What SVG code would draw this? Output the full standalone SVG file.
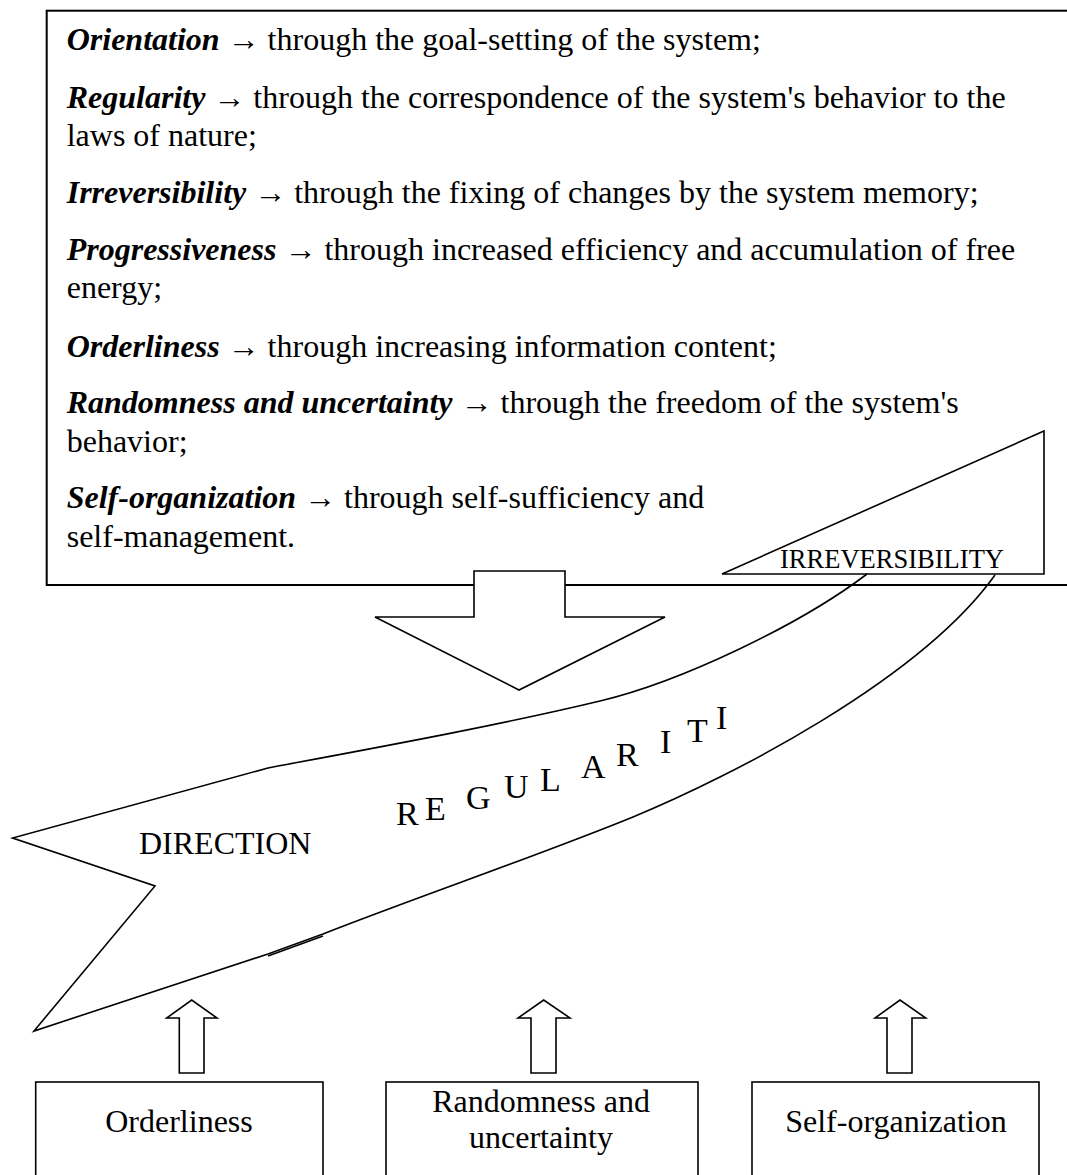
<svg xmlns="http://www.w3.org/2000/svg" width="1067" height="1175" viewBox="0 0 1067 1175">
<style>
  .ln { fill: none; stroke: #000; stroke-width: 1.6; stroke-linejoin: miter; }
  .wf { fill: #fff; stroke: #000; stroke-width: 1.6; }
  .t { font-family: "Liberation Serif", "Times New Roman", serif; font-size: 32px; fill: #000; }
  .bi { font-weight: bold; font-style: italic; }
  .lbl { font-family: "Liberation Serif", "Times New Roman", serif; font-size: 32px; fill: #000; text-anchor: middle; }
  .rg { font-family: "Liberation Serif", "Times New Roman", serif; font-size: 34px; fill: #000; }
</style>
<rect width="1067" height="1175" fill="#fff"/>

<g id="ribbon">
  <path class="ln" d="M867,574 C800,625 680,682 600,701 C500,725 380,747 275.5,766.5 L268,768 L12.6,838 L155,886 L34,1031 L268,954 L323,934 C420,896 540,855 633,817 C730,777 920,680 995,575"/>
  <line class="ln" x1="268" y1="956" x2="323" y2="936"/>
  <text class="t" x="139" y="854">DIRECTION</text>
  <text class="rg" x="396" y="825">R</text>
  <text class="rg" x="425" y="820">E</text>
  <text class="rg" x="466" y="809">G</text>
  <text class="rg" x="504" y="798">U</text>
  <text class="rg" x="540" y="791">L</text>
  <text class="rg" x="581" y="778">A</text>
  <text class="rg" x="616" y="766">R</text>
  <text class="rg" x="660" y="753">I</text>
  <text class="rg" x="687" y="742">T</text>
  <text class="rg" x="716" y="729">I</text>
</g>

<g id="principles-box">
  <rect x="46.7" y="10.7" width="1040" height="574.3" fill="none" stroke="#000" stroke-width="2"/>
  <text class="t" x="66.7" y="50"><tspan class="bi">Orientation</tspan> → through the goal-setting of the system;</text>
  <text class="t" x="66.7" y="108"><tspan class="bi">Regularity</tspan> → through the correspondence of the system's behavior to the</text>
  <text class="t" x="66.7" y="146">laws of nature;</text>
  <text class="t" x="66.7" y="203"><tspan class="bi">Irreversibility</tspan> → through the fixing of changes by the system memory;</text>
  <text class="t" x="66.7" y="260"><tspan class="bi">Progressiveness</tspan> → through increased efficiency and accumulation of free</text>
  <text class="t" x="66.7" y="298">energy;</text>
  <text class="t" x="66.7" y="357"><tspan class="bi">Orderliness</tspan> → through increasing information content;</text>
  <text class="t" x="66.7" y="413"><tspan class="bi">Randomness and uncertainty</tspan> → through the freedom of the system's</text>
  <text class="t" x="66.7" y="452">behavior;</text>
  <text class="t" x="66.7" y="508"><tspan class="bi">Self-organization</tspan> → through self-sufficiency and</text>
  <text class="t" x="66.7" y="547">self-management.</text>
</g>

<g id="irreversibility">
  <polygon class="ln" points="722,574 1044,431 1044,574"/>
  <text x="780" y="568" style="font-family:'Liberation Serif','Times New Roman',serif;font-size:26.5px" textLength="224">IRREVERSIBILITY</text>
</g>

<g id="connectors">
  <polygon class="wf" points="474,571 565,571 565,617 665,617 519,690 375,617 474,617"/>
  <polygon class="wf" points="179.3,1073 204,1073 204,1018 217,1018 191.7,1000 166.7,1018 179.3,1018"/>
  <polygon class="wf" points="531,1073 556,1073 556,1018 570,1018 543.7,1000 518,1018 531,1018"/>
  <polygon class="wf" points="887,1073 912,1073 912,1018 925.7,1018 900,1000 875,1018 887,1018"/>
</g>

<g id="box-orderliness">
  <rect class="ln" x="35.7" y="1082" width="287.3" height="130"/>
  <text class="lbl" x="179" y="1132">Orderliness</text>
</g>
<g id="box-randomness">
  <rect class="ln" x="386" y="1082" width="312" height="130"/>
  <text class="lbl" x="541" y="1112">Randomness and</text>
  <text class="lbl" x="541" y="1148">uncertainty</text>
</g>
<g id="box-selforg">
  <rect class="ln" x="752" y="1082" width="287" height="130"/>
  <text class="lbl" x="896" y="1132">Self-organization</text>
</g>
</svg>
